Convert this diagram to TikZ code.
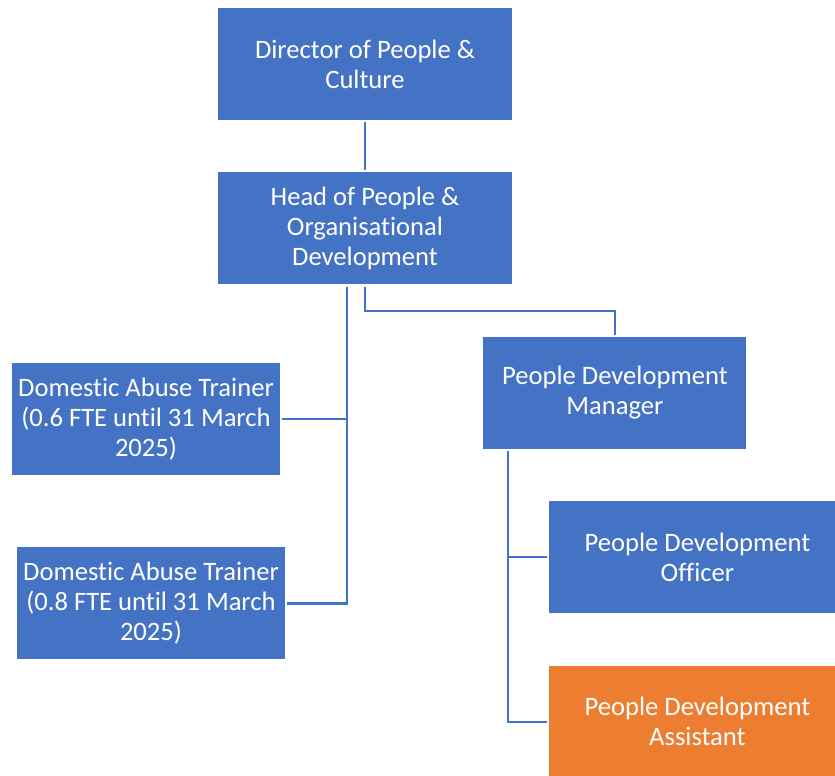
\documentclass[tikz,border=0pt]{standalone}
\usepackage{fontspec}
\setmainfont{Carlito}[Ligatures=NoCommon]
\usepackage{tikz}
\usetikzlibrary{positioning,calc}
\definecolor{OrgBlue}{HTML}{4472C4}
\definecolor{OrgOrange}{HTML}{ED7D31}

\begin{document}
\begin{tikzpicture}[x=1pt,y=-1pt,node distance=52pt,
    role/.style={fill=OrgBlue,text=white,align=center,inner sep=0pt,
      minimum height=112pt,font=\fontsize{26.6}{30}\selectfont},
    link/.style={draw=OrgBlue,line width=2.2pt,shorten >=2pt,shorten <=2pt}]
  \useasboundingbox (0,0) rectangle (835,776);
  \node[role,minimum width=294pt] (dir)  at (365,64) {Director of People \&\\Culture};
  \node[role,minimum width=294pt] (head) [below=of dir] {Head of People \&\\Organisational\\Development};
  \node[role,minimum width=263pt] (pdm)  [below right=52pt and -29pt of head] {People Development\\Manager};
  \node[role,minimum width=296pt] (pdo)  [below=of pdm,xshift=82.5pt] {People Development\\Officer};
  \node[role,minimum width=296pt,fill=OrgOrange] (pda) [below=of pdo] {People Development\\Assistant};
  \node[role,minimum width=268pt] (da1)  at (146,419) {Domestic Abuse Trainer\\(0.6 FTE until 31 March\\2025)};
  \node[role,minimum width=268pt] (da2)  [below=72pt of da1,xshift=5pt] {Domestic Abuse Trainer\\(0.8 FTE until 31 March\\2025)};

  \coordinate (hleft) at ($(head.south)+(-18,0)$);
  \coordinate (mleft) at ($(pdm.south west)+(25,0)$);
  \draw[link] (dir) -- (head);
  \draw[link] (hleft) |- (da1.east);
  \draw[link] (hleft) |- (da2.east);
  \draw[link] (head.south) |- ($(head.south)!.5!(pdm.north)$) -| (pdm.north);
  \draw[link] (mleft) |- (pdo.west);
  \draw[link] (mleft) |- (pda.west);
\end{tikzpicture}
\end{document}
